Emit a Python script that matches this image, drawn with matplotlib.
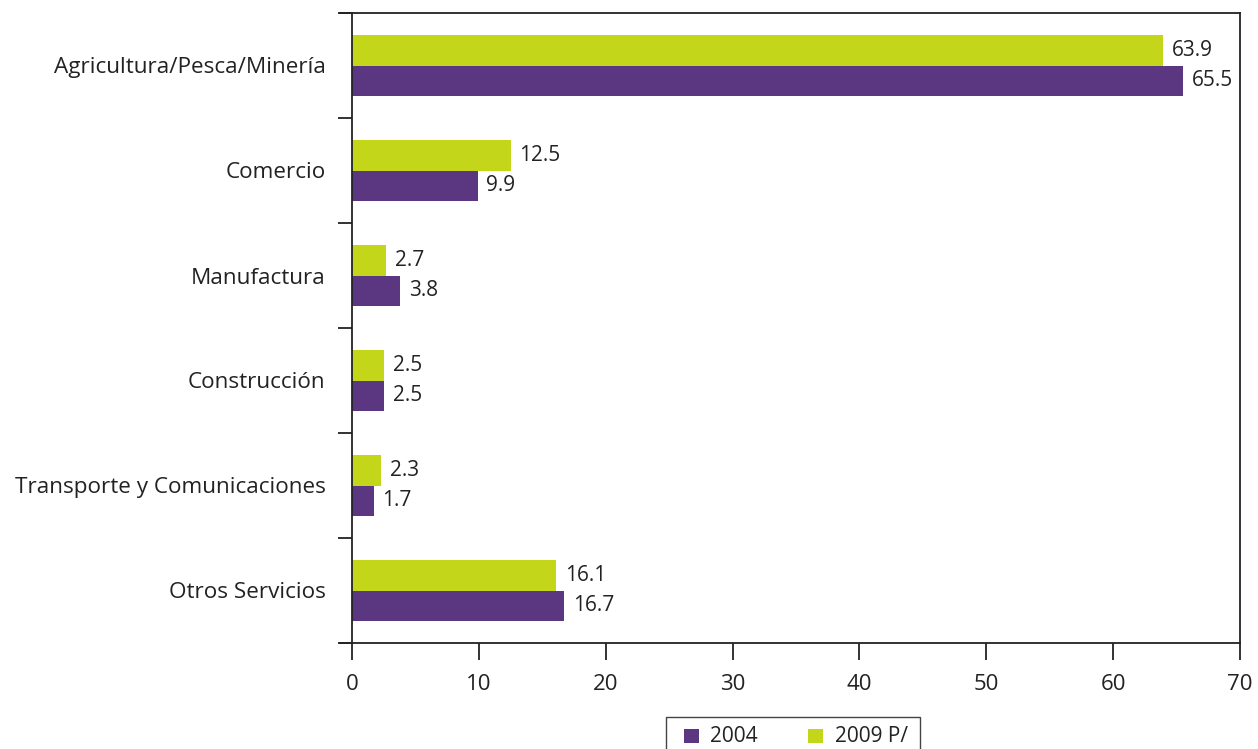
import matplotlib
matplotlib.use("Agg")
import matplotlib.pyplot as plt
import numpy as np
from matplotlib.patches import Rectangle

categories = ["Agricultura/Pesca/Minería", "Comercio", "Manufactura", "Construcción",
              "Transporte y Comunicaciones", "Otros Servicios"]
values_2004 = [65.5, 9.9, 3.8, 2.5, 1.7, 16.7]
values_2009 = [63.9, 12.5, 2.7, 2.5, 2.3, 16.1]
series_labels = ["2004", "2009 P/"]
xticks = [0, 10, 20, 30, 40, 50, 60, 70]

purple = "#5b3782"
green = "#c3d61a"
txt = "#222222"

plt.rcParams['font.family'] = ['Open Sans', 'DejaVu Sans']

W, H = 1258, 749
fig = plt.figure(figsize=(W / 100, H / 100), dpi=100)
ax = fig.add_axes([352 / W, 1 - 643 / H, (1240 - 352) / W, (643 - 13) / H])

n = len(categories)
y = np.arange(n)
bh = 0.286
ax.barh(y - bh / 2, values_2009, height=bh, color=green, align='center')
ax.barh(y + bh / 2, values_2004, height=bh, color=purple, align='center')

for yi, v in zip(y, values_2009):
    ax.text(v + 0.7, yi - bh / 2, f"{v:.1f}", va='center', ha='left', fontsize=15, color=txt)
for yi, v in zip(y, values_2004):
    ax.text(v + 0.7, yi + bh / 2, f"{v:.1f}", va='center', ha='left', fontsize=15, color=txt)

ax.set_ylim(n - 0.5, -0.5)
ax.set_xlim(0, 70)
ax.set_xticks(xticks)
ax.set_xticklabels([str(t) for t in xticks], fontsize=16, color=txt)
ax.set_yticks(y)
ax.set_yticklabels(categories, fontsize=16.2, color=txt)
ax.tick_params(axis='y', which='major', length=0, pad=19)
ax.set_yticks(np.arange(-0.5, n, 1), minor=True)
ax.tick_params(axis='y', which='minor', length=10, width=1.3, color=txt)
ax.tick_params(axis='x', which='major', length=12, width=1.3, color=txt, pad=10)

for s in ax.spines.values():
    s.set_color(txt)
    s.set_linewidth(1.3)

# extend top and bottom lines slightly to the left
ax.plot([-0.95, 0], [-0.5, -0.5], color=txt, lw=1.3, clip_on=False)
ax.plot([-0.95, 0], [n - 0.5, n - 0.5], color=txt, lw=1.3, clip_on=False)

# legend (box runs off the bottom edge, as in the reference)
def fx(px):
    return px / W

def fy(py):
    return 1 - py / H

fig.patches.append(Rectangle((fx(666), fy(760)), fx(920) - fx(666), fy(717) - fy(760),
                             transform=fig.transFigure, facecolor='white',
                             edgecolor='#444444', lw=1.0))
legend_colors = [purple, green]
marker_x = [684, 808]
text_x = [710, 835]
for c, mx, tx, lab in zip(legend_colors, marker_x, text_x, series_labels):
    fig.patches.append(Rectangle((fx(mx), fy(743)), fx(15), 14 / H,
                                 transform=fig.transFigure, facecolor=c, edgecolor='none'))
    fig.text(fx(tx), fy(736.5), lab, fontsize=15, color=txt, ha='left', va='center')

fig.savefig("out.png", dpi=100)
